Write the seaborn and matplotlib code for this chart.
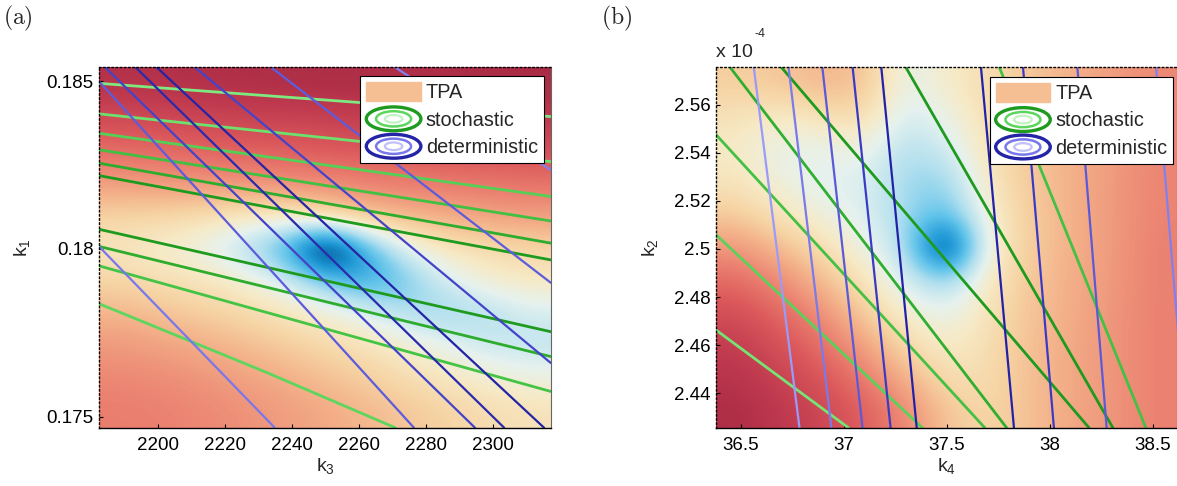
import numpy as np
import matplotlib
matplotlib.use("Agg")
import matplotlib.pyplot as plt
import seaborn as sns
from matplotlib.colors import LinearSegmentedColormap
from matplotlib.legend_handler import HandlerBase
from matplotlib.patches import Ellipse, Patch
from matplotlib.lines import Line2D

sns.set_theme(style="white")
plt.rcParams["font.family"] = ["Liberation Sans", "DejaVu Sans"]

# ---------------- panel (a): k3 vs k1 ----------------
a_xlim = [2182.6, 2317.2]
a_ylim = [0.17467, 0.18541]
a_xticks = [2200, 2220, 2240, 2260, 2280, 2300]
a_yticks = [0.175, 0.18, 0.185]

# TPA level (0 = low, 1 = peak), rows top -> bottom
tpa_a = [
    [0.05, 0.05, 0.04, 0.04, 0.03, 0.03, 0.03, 0.03, 0.03, 0.02, 0.02],
    [0.15, 0.14, 0.13, 0.12, 0.12, 0.11, 0.10, 0.10, 0.09, 0.09, 0.08],
    [0.27, 0.26, 0.25, 0.24, 0.23, 0.22, 0.21, 0.20, 0.19, 0.18, 0.17],
    [0.40, 0.39, 0.38, 0.37, 0.36, 0.35, 0.33, 0.32, 0.31, 0.30, 0.29],
    [0.53, 0.54, 0.56, 0.60, 0.60, 0.55, 0.48, 0.45, 0.43, 0.41, 0.40],
    [0.60, 0.63, 0.67, 0.76, 0.88, 1.16, 0.90, 0.68, 0.59, 0.56, 0.54],
    [0.54, 0.57, 0.59, 0.63, 0.70, 0.83, 0.90, 0.83, 0.70, 0.63, 0.60],
    [0.46, 0.49, 0.52, 0.55, 0.59, 0.63, 0.69, 0.76, 0.79, 0.76, 0.71],
    [0.39, 0.41, 0.44, 0.47, 0.51, 0.55, 0.58, 0.63, 0.67, 0.72, 0.74],
    [0.35, 0.36, 0.38, 0.41, 0.44, 0.48, 0.52, 0.56, 0.60, 0.63, 0.65],
    [0.32, 0.33, 0.35, 0.37, 0.40, 0.43, 0.46, 0.50, 0.53, 0.56, 0.58],
]

# stochastic contour lines
a_stoch_x = [
    [2182.6, 2317.2], [2182.6, 2317.2], [2182.6, 2317.2], [2182.6, 2317.2],
    [2182.6, 2317.2], [2182.6, 2317.2], [2182.6, 2317.2], [2182.6, 2317.2],
    [2182.6, 2317.2], [2182.6, 2232.6, 2270.8],
]
a_stoch_y = [
    [0.18493, 0.18394], [0.18402, 0.18260], [0.18344, 0.18156], [0.18295, 0.18083],
    [0.18255, 0.18017], [0.18218, 0.17967], [0.18058, 0.17753], [0.18007, 0.17679],
    [0.17949, 0.17575], [0.17836, 0.17631, 0.17467],
]
a_stoch_c = ["#7fe97f", "#6de06d", "#55cf55", "#41c041", "#2eac2e",
             "#1e9b1e", "#1e9b1e", "#2eac2e", "#44c444", "#5cd65c"]

# deterministic contour lines
a_det_x = [
    [2182.6, 2234.9], [2182.6, 2276.4], [2184.3, 2294.6], [2193.4, 2303.3],
    [2199.7, 2315.2], [2211.1, 2317.2], [2233.8, 2317.2], [2270.8, 2317.2],
]
a_det_y = [
    [0.18006, 0.17467], [0.18498, 0.17467], [0.18541, 0.17467], [0.18541, 0.17467],
    [0.18541, 0.17467], [0.18541, 0.17660], [0.18541, 0.17899], [0.18541, 0.18235],
]
a_det_c = ["#7878ec", "#5c5cdc", "#4444ca", "#2a2aae",
           "#2424a6", "#4444ca", "#5c5cdc", "#8080f0"]

# ---------------- panel (b): k4 vs k2 (k2 in units of 1e-4) ----------------
b_xlim = [36.3786, 38.6165]
b_ylim = [2.4257, 2.5755]
b_xticks = [36.5, 37, 37.5, 38, 38.5]
b_yticks = [2.44, 2.46, 2.48, 2.5, 2.52, 2.54, 2.56]

tpa_b = [
    [0.52, 0.50, 0.46, 0.48, 0.68, 0.62, 0.56, 0.50, 0.45, 0.40, 0.35],
    [0.58, 0.62, 0.58, 0.55, 0.72, 0.66, 0.57, 0.50, 0.45, 0.40, 0.35],
    [0.61, 0.67, 0.68, 0.65, 0.76, 0.72, 0.58, 0.50, 0.45, 0.40, 0.34],
    [0.59, 0.65, 0.69, 0.69, 0.78, 0.80, 0.60, 0.50, 0.45, 0.39, 0.34],
    [0.51, 0.59, 0.65, 0.69, 0.77, 0.86, 0.63, 0.51, 0.45, 0.39, 0.34],
    [0.39, 0.47, 0.57, 0.66, 0.75, 1.14, 0.64, 0.51, 0.45, 0.39, 0.33],
    [0.27, 0.36, 0.47, 0.59, 0.70, 0.80, 0.60, 0.50, 0.44, 0.39, 0.33],
    [0.17, 0.26, 0.37, 0.51, 0.63, 0.68, 0.58, 0.49, 0.44, 0.38, 0.33],
    [0.10, 0.18, 0.28, 0.41, 0.55, 0.62, 0.57, 0.48, 0.43, 0.38, 0.33],
    [0.06, 0.12, 0.20, 0.31, 0.45, 0.57, 0.56, 0.48, 0.43, 0.38, 0.33],
    [0.03, 0.08, 0.14, 0.23, 0.35, 0.50, 0.55, 0.48, 0.43, 0.38, 0.33],
]

b_stoch_x = [
    [36.3786, 37.021], [36.3786, 37.380], [36.3786, 37.683], [36.447, 37.789],
    [36.696, 38.189], [37.300, 38.305], [37.754, 38.465],
]
b_stoch_y = [
    [2.4663, 2.4257], [2.5059, 2.4257], [2.5475, 2.4257], [2.5755, 2.4257],
    [2.5755, 2.4257], [2.5755, 2.4257], [2.5755, 2.4257],
]
b_stoch_c = ["#74e474", "#5ad25a", "#44c044", "#30ae30", "#1e9a1e", "#1e9a1e", "#44c044"]

b_det_x = [
    [36.562, 36.784], [36.731, 36.939], [36.895, 37.090], [37.042, 37.226],
    [37.181, 37.353], [37.665, 37.825], [37.869, 38.019], [38.133, 38.275],
    [38.515, 38.660],
]
b_det_y = [[2.5755, 2.4257]] * 9
b_det_c = ["#9a9af8", "#7a7aea", "#5a5ad8", "#3a3ac5", "#2222a8",
           "#2222a8", "#3a3ac5", "#5a5ad8", "#8080f0"]

legend_labels = ["TPA", "stochastic", "deterministic"]
tpa_color = "#f5be93"
stoch_rings = ["#1e9b1e", "#5cd65c", "#c2f2c2"]
det_rings = ["#2424a6", "#7878ec", "#c0c0fa"]

cmap = LinearSegmentedColormap.from_list("tpa", [
    (0.00, "#a52843"), (0.10, "#c23c50"), (0.22, "#dc5a5c"), (0.33, "#eb8070"),
    (0.44, "#f3ad87"), (0.53, "#f6d3a3"), (0.61, "#f6eac6"), (0.68, "#e6f2ee"),
    (0.76, "#b2e0ef"), (0.84, "#60c3ea"), (0.92, "#1f98d6"), (1.00, "#005493"),
])


class RingsHandler(HandlerBase):
    def __init__(self, colors):
        super().__init__()
        self.colors = colors

    def create_artists(self, legend, orig_handle, xdescent, ydescent,
                       width, height, fontsize, trans):
        cx = 0.5 * width - xdescent
        cy = 0.5 * height - ydescent
        out = []
        for c, s, lw in zip(self.colors, [1.0, 0.64, 0.32], [2.4, 1.8, 1.6]):
            e = Ellipse((cx, cy), width * s, height * 1.25 * s,
                        fill=False, edgecolor=c, lw=lw)
            e.set_transform(trans)
            out.append(e)
        return out


def draw_panel(ax, grid, xlim, ylim, sx, sy, sc, dx, dy, dc, xticks, yticks, anchor):
    ax.imshow(np.array(grid), extent=(xlim[0], xlim[1], ylim[0], ylim[1]),
              origin="upper", aspect="auto", cmap=cmap, vmin=0, vmax=1,
              interpolation="bicubic", zorder=0)
    for xs, ys, c in zip(sx, sy, sc):
        sns.lineplot(x=xs, y=ys, sort=False, estimator=None, color=c, lw=2.0, ax=ax)
    for xs, ys, c in zip(dx, dy, dc):
        sns.lineplot(x=xs, y=ys, sort=False, estimator=None, color=c, lw=1.6, ax=ax)
    ax.set_xlim(xlim)
    ax.set_ylim(ylim)
    ax.set_xticks(xticks)
    ax.set_yticks(yticks)
    ax.set_xticklabels(["%g" % t for t in xticks])
    ax.set_yticklabels(["%g" % t for t in yticks])
    ax.tick_params(direction="in", length=3, width=0.8, labelsize=13.5,
                   colors="black", left=True, bottom=True)
    ax.tick_params(axis="x", pad=7)
    ax.tick_params(axis="y", pad=4)
    for side in ["left", "top"]:
        ax.spines[side].set_linestyle((0, (1, 2)))
        ax.spines[side].set_color("black")
        ax.spines[side].set_linewidth(1.0)
    ax.spines["bottom"].set_color("black")
    ax.spines["bottom"].set_linewidth(1.0)
    ax.spines["right"].set_color("#666666")
    ax.spines["right"].set_linewidth(0.8)

    st = Line2D([], [])
    de = Line2D([], [])
    tp = Patch(facecolor=tpa_color, edgecolor=tpa_color)
    leg = ax.legend([tp, st, de], legend_labels,
                    handler_map={st: RingsHandler(stoch_rings), de: RingsHandler(det_rings)},
                    loc="upper right", bbox_to_anchor=anchor, frameon=True,
                    fancybox=False, framealpha=1, edgecolor="black", fontsize=14.3,
                    handlelength=2.75, handleheight=1.1, handletextpad=0.25,
                    labelspacing=0.36, borderpad=0.3, borderaxespad=0)
    leg.get_frame().set_linewidth(0.8)


fig = plt.figure(figsize=(11.77, 4.86), dpi=100)
ax_a = fig.add_axes([0.0844, 0.12, 0.3835, 0.7416])
ax_b = fig.add_axes([0.6083, 0.12, 0.3917, 0.7416])

draw_panel(ax_a, tpa_a, a_xlim, a_ylim, a_stoch_x, a_stoch_y, a_stoch_c,
           a_det_x, a_det_y, a_det_c, a_xticks, a_yticks, (0.985, 0.976))
draw_panel(ax_b, tpa_b, b_xlim, b_ylim, b_stoch_x, b_stoch_y, b_stoch_c,
           b_det_x, b_det_y, b_det_c, b_xticks, b_yticks, (0.992, 0.974))

ax_a.set_xlabel(r"k$_\mathregular{3}$", fontsize=14, labelpad=2)
ax_a.set_ylabel(r"k$_\mathregular{1}$", fontsize=14, labelpad=10)
ax_b.set_xlabel(r"k$_\mathregular{4}$", fontsize=14, labelpad=2)
ax_b.set_ylabel(r"k$_\mathregular{2}$", fontsize=14, labelpad=9)

ax_b.text(0.0, 1.041, "x 10", transform=ax_b.transAxes, fontsize=14,
          ha="left", va="center")
ax_b.text(0.096, 1.091, "-4", transform=ax_b.transAxes, fontsize=9,
          ha="center", va="center")

fig.text(0.0155, 0.963, r"$\mathrm{(a)}$", fontsize=17, math_fontfamily="cm",
         ha="center", va="center")
fig.text(0.524, 0.963, r"$\mathrm{(b)}$", fontsize=17, math_fontfamily="cm",
         ha="center", va="center")

fig.savefig("out.png", dpi=100)
